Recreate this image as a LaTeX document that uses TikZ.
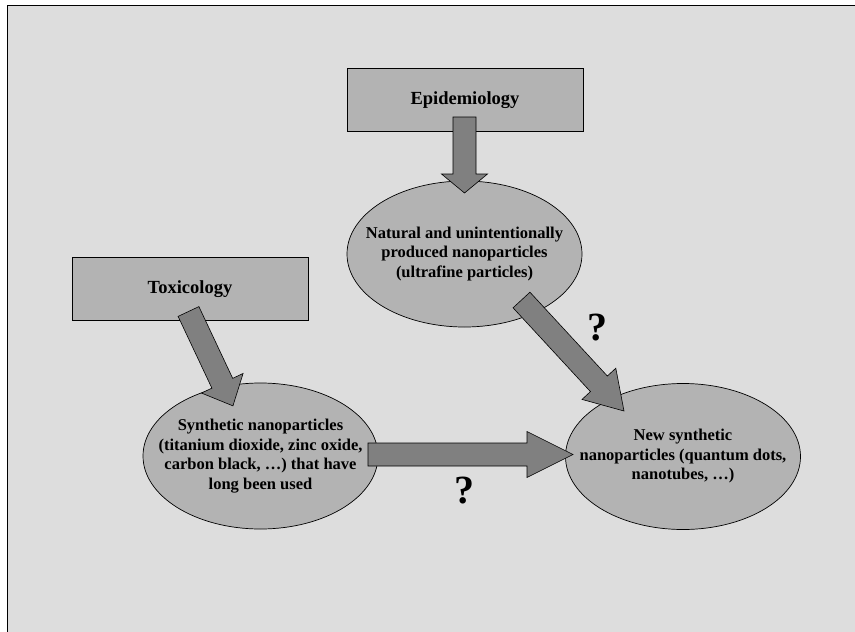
\documentclass[tikz,border=0pt]{standalone}
\usepackage{fontspec}
\setmainfont{Liberation Serif}
\usetikzlibrary{calc,shapes.geometric}

\definecolor{panelgray}{RGB}{221,221,221}
\definecolor{shapegray}{RGB}{179,179,179}
\definecolor{arrowgray}{RGB}{128,128,128}

% block arrow: start, tip, head length
\newcommand{\fatarrow}[3]{%
    \draw[fatarrow] let \p1=(#1), \p2=(#2),
        \n1={atan2(\y2-\y1,\x2-\x1)}, \n2={veclen(\x2-\x1,\y2-\y1)} in
        [shift={(\p1)}, rotate=\n1]
        (0,-11.5) -- ({\n2-#3},-11.5) -- ({\n2-#3},-23) -- (\n2,0)
        -- ({\n2-#3},23) -- ({\n2-#3},11.5) -- (0,11.5) -- cycle;}

\begin{document}
\begin{tikzpicture}[x=1pt, y=-1pt,
        topicbox/.style={draw, fill=shapegray, line width=0.8pt,
            minimum width=236pt, minimum height=63pt,
            font=\fontsize{18.5}{22}\selectfont\bfseries},
        groupellipse/.style={ellipse, draw, fill=shapegray, line width=0.7pt,
            minimum width=235pt, minimum height=146pt,
            inner xsep=-40pt, inner ysep=0pt,
            align=center, font=\fontsize{16.5}{19.5}\selectfont\bfseries},
        fatarrow/.style={draw, fill=arrowgray, line width=0.6pt, line join=miter},
        querymark/.style={font=\fontsize{40}{40}\selectfont\bfseries}]
                \useasboundingbox (0,0) rectangle (855,632);
                \fill[white] (0,0) rectangle (855,632);
                \draw[fill=panelgray, line width=0.8pt] (7.5,5.5) rectangle (900,700);

                % fields and particle groups
                \node[topicbox] (epi) at (465,100) {Epidemiology};
                \node[topicbox] (tox) at (190,289) {Toxicology};
                \node[groupellipse] (natural) at (464.5,254)
                    {Natural and unintentionally\\produced nanoparticles\\(ultrafine particles)};
                \node[groupellipse] (synthetic) at (260.5,456)
                    {Synthetic nanoparticles\\(titanium dioxide, zinc oxide,\\carbon black, …) that have\\long been used};
                \node[groupellipse] (newsynth) at (683,456.5)
                    {New synthetic\\nanoparticles (quantum dots,\\nanotubes, …)};

                % arrow ends
                \coordinate (epi-out) at (464.5,117);
                \coordinate (natural-in) at (464.5,193);
                \coordinate (tox-out) at (188.5,311.5);
                \coordinate (synthetic-in) at (233,406);
                \coordinate (natural-out) at (521.5,300);
                \coordinate (newsynth-top) at (624,411);
                \coordinate (synthetic-out) at (368,454.5);
                \coordinate (newsynth-left) at (573,454.5);

                \fatarrow{epi-out}{natural-in}{19}
                \fatarrow{tox-out}{synthetic-in}{25}
                \fatarrow{natural-out}{newsynth-top}{37}
                \fatarrow{synthetic-out}{newsynth-left}{46}

                \node[querymark] (q-top) at (597.5,327.5) {?};
                \node[querymark] (q-bottom) at (464.5,491) {?};
            \end{tikzpicture}
\end{document}
